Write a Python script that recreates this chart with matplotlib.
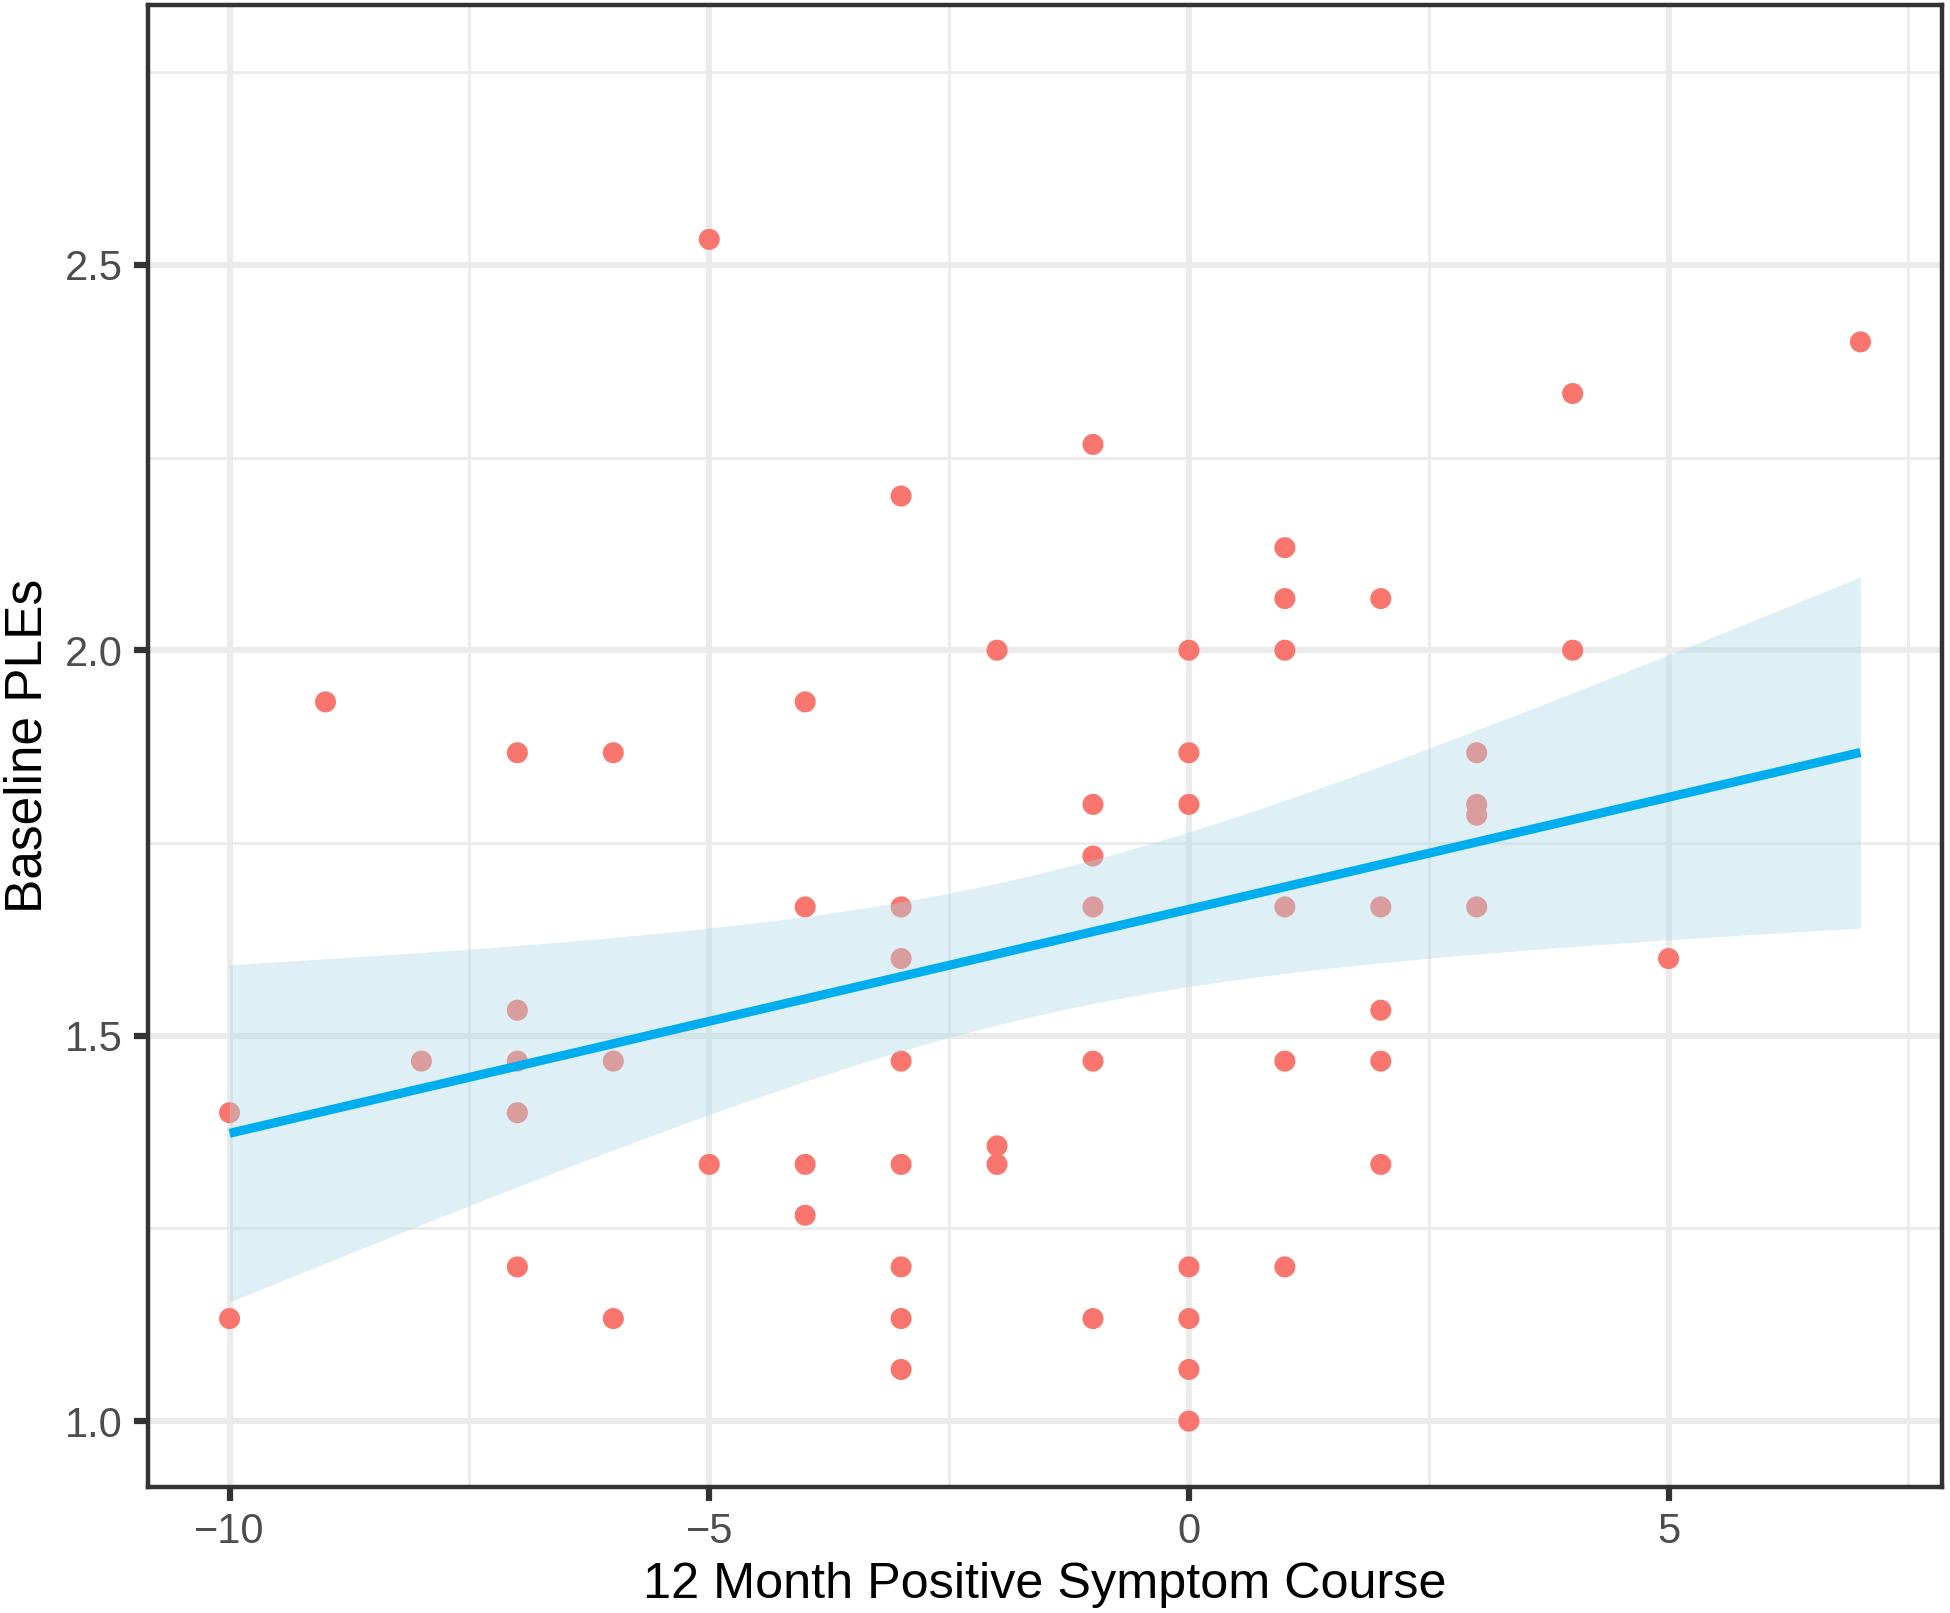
import numpy as np
import matplotlib
matplotlib.use("Agg")
import matplotlib.pyplot as plt

plt.rcParams['font.family'] = ['Liberation Sans', 'DejaVu Sans']

# ---- data ----
course = [-10, -10,
          -9,
          -8,
          -7, -7, -7, -7, -7,
          -6, -6, -6,
          -5, -5,
          -4, -4, -4, -4,
          -3, -3, -3, -3, -3, -3, -3, -3,
          -2, -2, -2,
          -1, -1, -1, -1, -1, -1,
          0, 0, 0, 0, 0, 0, 0,
          1, 1, 1, 1, 1, 1,
          2, 2, 2, 2, 2,
          3, 3, 3, 3,
          4, 4,
          5,
          7]
ples = [1.400, 1.133,
        1.933,
        1.467,
        1.867, 1.533, 1.467, 1.400, 1.200,
        1.867, 1.467, 1.133,
        2.533, 1.333,
        1.933, 1.667, 1.333, 1.267,
        2.200, 1.667, 1.600, 1.467, 1.333, 1.200, 1.133, 1.067,
        2.000, 1.357, 1.333,
        2.267, 1.800, 1.733, 1.667, 1.467, 1.133,
        2.000, 1.867, 1.800, 1.200, 1.133, 1.067, 1.000,
        2.133, 2.067, 2.000, 1.667, 1.467, 1.200,
        2.067, 1.667, 1.533, 1.467, 1.333,
        1.867, 1.800, 1.786, 1.667,
        2.333, 2.000,
        1.600,
        2.400]

x_ticks = [-10, -5, 0, 5]
x_tick_labels = ["\u221210", "\u22125", "0", "5"]
y_ticks = [1.0, 1.5, 2.0, 2.5]
y_tick_labels = ["1.0", "1.5", "2.0", "2.5"]

x = np.array(course, dtype=float)
y = np.array(ples, dtype=float)

# ---- linear fit with 95% CI (like geom_smooth(method = "lm")) ----
n = len(x)
X = np.column_stack([np.ones(n), x])
beta, *_ = np.linalg.lstsq(X, y, rcond=None)
resid = y - X @ beta
s2 = resid @ resid / (n - 2)
XtX_inv = np.linalg.inv(X.T @ X)
xs = np.linspace(x.min(), x.max(), 80)
Xs = np.column_stack([np.ones_like(xs), xs])
fit = Xs @ beta
se = np.sqrt(s2 * np.einsum('ij,jk,ik->i', Xs, XtX_inv, Xs))
tcrit = 2.0010  # t(0.975, df=59)
lo, hi = fit - tcrit * se, fit + tcrit * se

# ---- figure ----
fig = plt.figure(figsize=(19.5, 16.13), dpi=100)
ax = fig.add_axes([148/1950, 1 - 1487/1613, (1942-148)/1950, (1487-5)/1613])

ax.set_xlim(-10.85, 7.85)
ax.set_ylim(0.9145, 2.837)

# grid
for v in [-7.5, -2.5, 2.5, 7.5]:
    ax.axvline(v, color='#EBEBEB', lw=2.0, zorder=0)
for v in [1.25, 1.75, 2.25, 2.75]:
    ax.axhline(v, color='#EBEBEB', lw=2.0, zorder=0)
for v in x_ticks:
    ax.axvline(v, color='#EBEBEB', lw=4.3, zorder=0)
for v in y_ticks:
    ax.axhline(v, color='#EBEBEB', lw=4.3, zorder=0)

ax.scatter(x, y, s=230, color='#F8766D', edgecolors='none', zorder=2)
ax.fill_between(xs, lo, hi, color='#ADD8E6', alpha=0.4, linewidth=0, zorder=3)
ax.plot(xs, fit, color='#00AEEF', lw=6.5, zorder=4, solid_capstyle='butt')

ax.set_xticks(x_ticks)
ax.set_xticklabels(x_tick_labels)
ax.set_yticks(y_ticks)
ax.set_yticklabels(y_tick_labels)
ax.tick_params(axis='both', length=10, width=4.5, color='#333333',
               labelcolor='#4D4D4D', labelsize=30, pad=8)

for sp in ax.spines.values():
    sp.set_color('#333333')
    sp.set_linewidth(3.2)
    sp.set_zorder(5)

ax.set_xlabel("12 Month Positive Symptom Course", fontsize=36.3, color='black', labelpad=7)
ax.set_ylabel("Baseline PLEs", fontsize=37, color='black', labelpad=9)

fig.savefig("out.png", dpi=100)
